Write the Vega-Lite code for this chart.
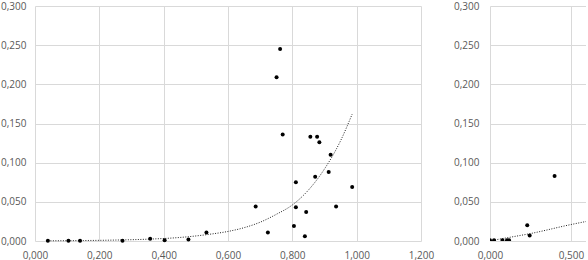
{
  "$schema": "https://vega.github.io/schema/vega-lite/v6.json",
  "padding": {"left": 0, "top": 1, "right": 0, "bottom": 0},
  "background": "white",
  "spacing": 19,
  "config": {
    "view": {"stroke": null},
    "axis": {
      "labelFont": "Open Sans",
      "labelFontSize": 10,
      "labelColor": "#595959",
      "gridColor": "#d9d9d9",
      "gridWidth": 1,
      "domain": false,
      "ticks": false,
      "title": null,
      "labelPadding": 9,
      "labelFlush": false,
      "labelOverlap": false,
      "labelExpr": "replace(format(datum.value, '.3f'), '.', ',')"
    }
  },
  "datasets": {
    "ptsL": [
      {"x": 0.040, "y": 0.0003}, {"x": 0.104, "y": 0.0003}, {"x": 0.140, "y": 0.0003},
      {"x": 0.272, "y": 0.0003}, {"x": 0.358, "y": 0.003}, {"x": 0.403, "y": 0.001},
      {"x": 0.477, "y": 0.002}, {"x": 0.533, "y": 0.011}, {"x": 0.686, "y": 0.044},
      {"x": 0.724, "y": 0.011}, {"x": 0.751, "y": 0.209}, {"x": 0.762, "y": 0.245},
      {"x": 0.770, "y": 0.136}, {"x": 0.805, "y": 0.019}, {"x": 0.811, "y": 0.043},
      {"x": 0.811, "y": 0.075}, {"x": 0.839, "y": 0.006}, {"x": 0.843, "y": 0.037},
      {"x": 0.856, "y": 0.133}, {"x": 0.871, "y": 0.082}, {"x": 0.877, "y": 0.133},
      {"x": 0.884, "y": 0.126}, {"x": 0.913, "y": 0.088}, {"x": 0.919, "y": 0.110},
      {"x": 0.936, "y": 0.044}, {"x": 0.986, "y": 0.069}
    ],
    "trendL": [
      {"x": 0.04, "y": 0.0003}, {"x": 0.15, "y": 0.0006}, {"x": 0.25, "y": 0.0012},
      {"x": 0.35, "y": 0.0023}, {"x": 0.45, "y": 0.0045}, {"x": 0.55, "y": 0.009},
      {"x": 0.60, "y": 0.0122}, {"x": 0.65, "y": 0.017}, {"x": 0.70, "y": 0.024},
      {"x": 0.75, "y": 0.034}, {"x": 0.80, "y": 0.046}, {"x": 0.85, "y": 0.065},
      {"x": 0.90, "y": 0.092}, {"x": 0.95, "y": 0.128}, {"x": 0.986, "y": 0.162}
    ],
    "ptsR": [
      {"x": 0.000, "y": 0.0008}, {"x": 0.025, "y": 0.0008}, {"x": 0.077, "y": 0.0008},
      {"x": 0.105, "y": 0.0008}, {"x": 0.118, "y": 0.0008}, {"x": 0.230, "y": 0.020},
      {"x": 0.245, "y": 0.007}, {"x": 0.399, "y": 0.083}
    ],
    "trendR": [
      {"x": 0.0, "y": 0.0003}, {"x": 0.13, "y": 0.005}, {"x": 0.245, "y": 0.0093},
      {"x": 0.5, "y": 0.021}, {"x": 0.62, "y": 0.026}
    ]
  },
  "hconcat": [
    {
      "width": 386,
      "height": 235,
      "encoding": {
        "x": {"field": "x", "type": "quantitative",
              "scale": {"domain": [0, 1.2], "nice": false},
              "axis": {"values": [0, 0.2, 0.4, 0.6, 0.8, 1.0, 1.2]}},
        "y": {"field": "y", "type": "quantitative",
              "scale": {"domain": [0, 0.3], "nice": false},
              "axis": {"values": [0, 0.05, 0.1, 0.15, 0.2, 0.25, 0.3]}}
      },
      "layer": [
        {"data": {"name": "trendL"},
         "mark": {"type": "line", "color": "#222222", "strokeWidth": 1, "strokeDash": [1, 1.5], "interpolate": "monotone"}},
        {"data": {"name": "ptsL"},
         "mark": {"type": "circle", "size": 16, "color": "#000000", "opacity": 1}}
      ]
    },
    {
      "width": 96,
      "height": 235,
      "encoding": {
        "x": {"field": "x", "type": "quantitative",
              "scale": {"domain": [0, 0.593], "nice": false},
              "axis": {"values": [0, 0.5]}},
        "y": {"field": "y", "type": "quantitative",
              "scale": {"domain": [0, 0.3], "nice": false},
              "axis": {"values": [0, 0.05, 0.1, 0.15, 0.2, 0.25, 0.3], "labelPadding": 11}}
      },
      "layer": [
        {"data": {"name": "trendR"},
         "mark": {"type": "line", "color": "#222222", "strokeWidth": 1, "strokeDash": [1, 1.5], "interpolate": "monotone", "clip": true}},
        {"data": {"name": "ptsR"},
         "mark": {"type": "circle", "size": 16, "color": "#000000", "opacity": 1, "clip": true}}
      ]
    }
  ]
}
